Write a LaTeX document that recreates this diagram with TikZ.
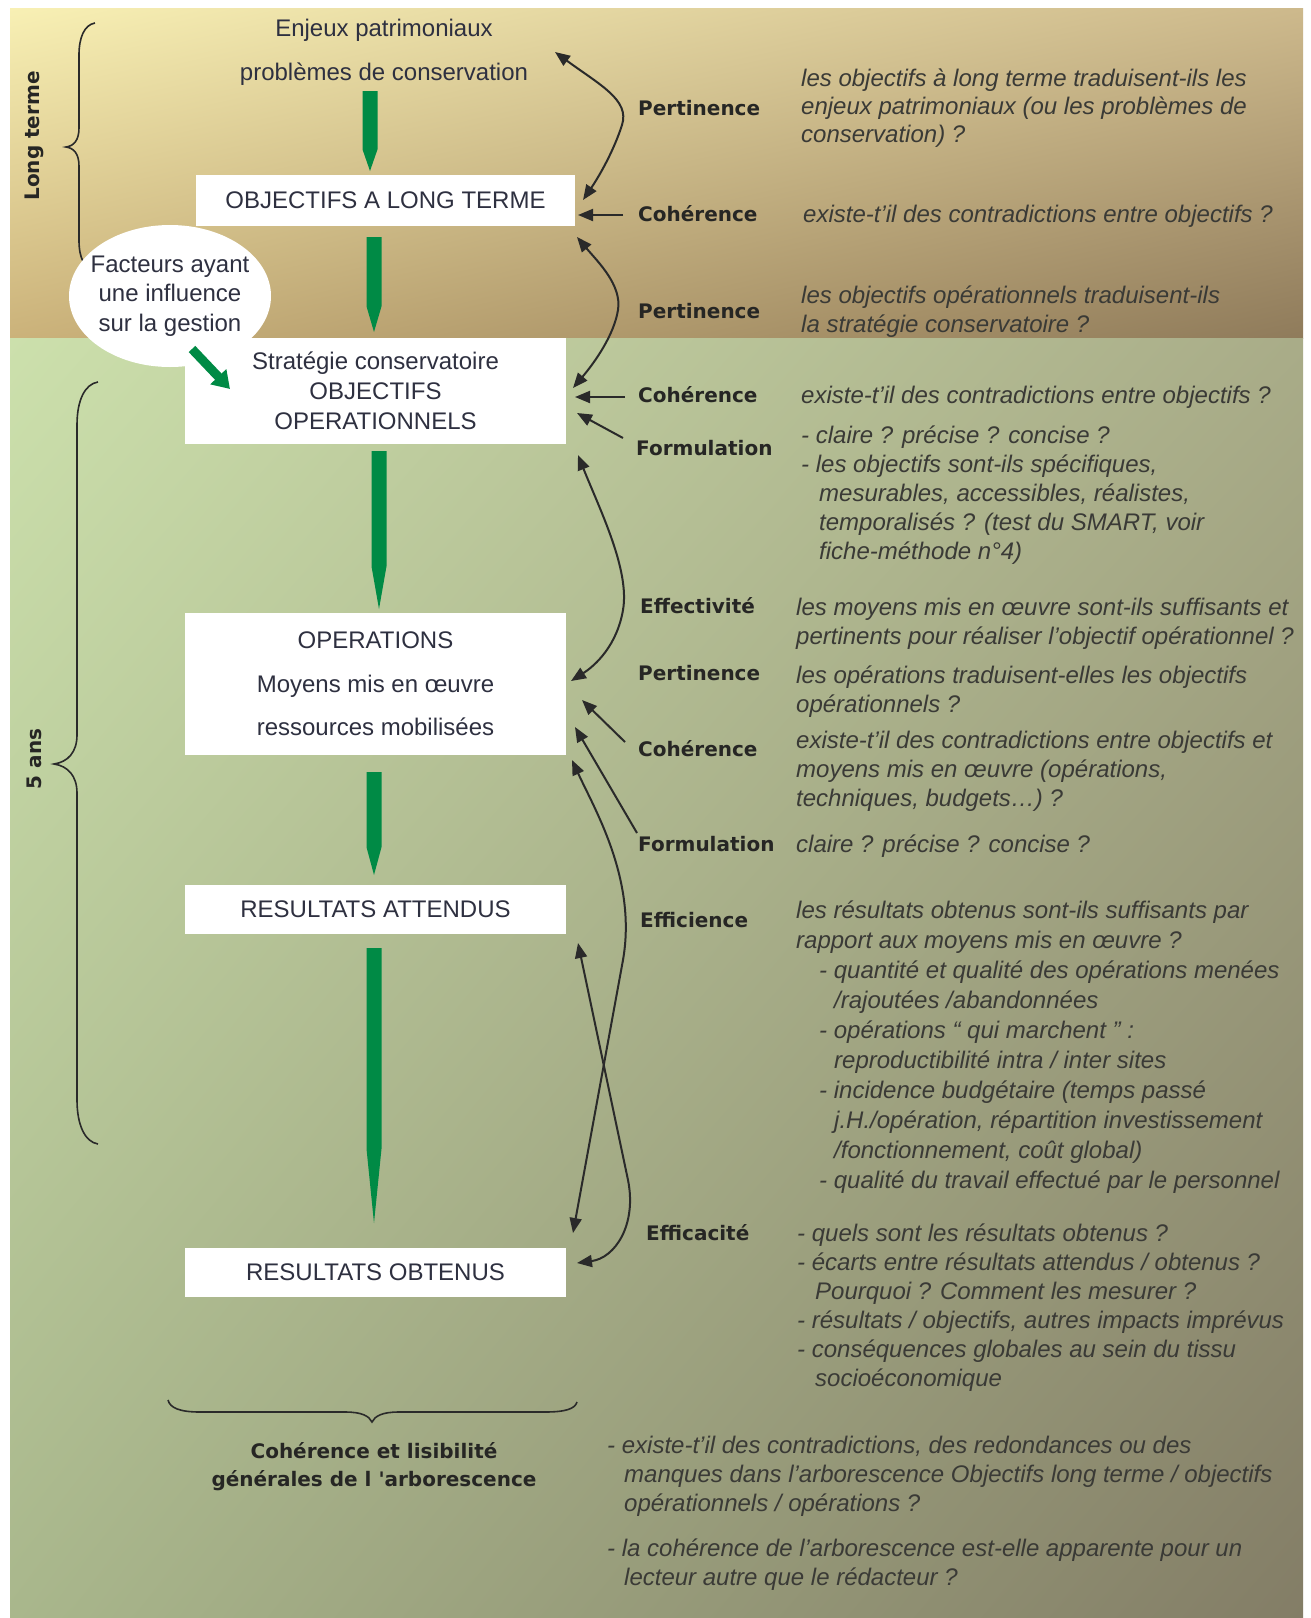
\documentclass[tikz,border=0pt]{standalone}
\usepackage{fontspec}
\setmainfont{Liberation Sans}
\newfontfamily\labfont{DejaVu Sans}
\usetikzlibrary{shapes.geometric,arrows.meta,calc,shadings}
\definecolor{garrow}{HTML}{008A45}
\definecolor{boxtext}{HTML}{2E3040}
\definecolor{qtext}{HTML}{3A3A36}
\definecolor{labtext}{HTML}{262624}
\definecolor{conncol}{HTML}{2A2A2A}
\definecolor{tA}{HTML}{F8F0B4}
\definecolor{tB}{HTML}{CDB98C}
\definecolor{tC}{HTML}{CBB27A}
\definecolor{tD}{HTML}{8F7B5B}
\definecolor{gA}{HTML}{CCE0AC}
\definecolor{gB}{HTML}{A9AC88}
\definecolor{gC}{HTML}{A9B78C}
\definecolor{gD}{HTML}{837D66}
\newcommand\greenarrow[2]{\fill[garrow] let \p1=(#1), \p2=(#2), \n1={\y2+0.27*(\y1-\y2)} in
  (\x1-7.5pt,\y1) -- (\x1+7.5pt,\y1) -- (\x1+7.5pt,\n1) -- (\x1,\y2) -- (\x1-7.5pt,\n1) -- cycle;}
\begin{document}
\begin{tikzpicture}[x=1pt,y=-1pt,
  plain/.style={inner sep=0pt,text=boxtext,font={\fontsize{24}{30}\selectfont}},
  box/.style={fill=white,inner sep=0pt,align=center,text=boxtext,font={\fontsize{24}{30}\selectfont}},
  lab/.style={anchor=west,inner sep=0pt,text=labtext,font={\labfont\bfseries\fontsize{20}{28}\selectfont}},
  q/.style={anchor=base west,inner sep=0pt,align=left,text=qtext,font={\itshape\fontsize{24}{29}\selectfont}},
  conn/.style={draw=conncol,line width=2pt},
  both/.style={conn,{Triangle[length=15pt,width=12pt]}-{Triangle[length=15pt,width=12pt]}},
  one/.style={conn,-{Triangle[length=15pt,width=12pt]}},
  brace/.style={draw=conncol,line width=1.6pt}]
% background
\path[use as bounding box,fill=white] (0,0) rectangle (1311,1618);
\shade[upper left=tA,upper right=tB,lower left=tC,lower right=tD] (10,8) rectangle (1303,338);
\shade[upper left=gA,upper right=gB,lower left=gC,lower right=gD] (10,338) rectangle (1303,1618);
% braces
\draw[brace] (95,23) .. controls (84,25) and (79,38) .. (79,55) -- (79,128) .. controls (79,140) and (74,146) .. (66,147) .. controls (74,148) and (79,154) .. (79,166) -- (79,240) .. controls (79,258) and (84,268) .. (95,271);
\draw[brace] (98,382) .. controls (85,384) and (77,400) .. (77,425) -- (77,735) .. controls (77,752) and (68,762) .. (54,764) .. controls (68,766) and (77,776) .. (77,793) -- (77,1100) .. controls (77,1125) and (85,1142) .. (98,1144);
\draw[brace] (168,1400) .. controls (170,1408) and (180,1412) .. (200,1412) -- (345,1412) .. controls (362,1412) and (369,1416) .. (372,1422) .. controls (375,1416) and (382,1412) .. (399,1412) -- (545,1412) .. controls (565,1412) and (575,1409) .. (577,1402);
\node[lab,anchor=center,rotate=90] (lt) at (34,136) {Long terme};
\node[lab,anchor=center,rotate=90] (five) at (34,759) {5 ans};
% top texts
\node[plain] (enj) at (384,30) {Enjeux patrimoniaux};
\node[plain] (prob) at (384,74) {problèmes de conservation};
% ellipse
\coordinate (factc) at (170,296);
\fill[white] (factc) ellipse [x radius=101, y radius=71];
\node[inner sep=0pt,align=center,text=boxtext,font={\fontsize{24}{29.5}\selectfont}] (fact) at (factc) {Facteurs ayant\\une influence\\sur la gestion};
% boxes
\node[box,minimum width=379pt,minimum height=51pt] (olt) at (385.5,200.5) {OBJECTIFS A LONG TERME};
\node[box,minimum width=381pt,minimum height=106pt] (oop) at (375.5,391) {Stratégie conservatoire\\OBJECTIFS\\OPERATIONNELS};
\node[box,minimum width=381pt,minimum height=142pt,font={\fontsize{24}{43.5}\selectfont}] (ops) at (375.5,684) {OPERATIONS\\Moyens mis en œuvre\\ressources mobilisées};
\node[box,minimum width=381pt,minimum height=49pt] (ra) at (375.5,909.5) {RESULTATS ATTENDUS};
\node[box,minimum width=381pt,minimum height=49pt] (ro) at (375.5,1272.5) {RESULTATS OBTENUS};
% green arrows
\coordinate (g1s) at (370,91);  \coordinate (g1e) at (370,171);
\coordinate (g2s) at (374,237); \coordinate (g2e) at (374,332);
\coordinate (g3s) at (379,451); \coordinate (g3e) at (379,609);
\coordinate (g4s) at (374,772); \coordinate (g4e) at (374,875);
\coordinate (g5s) at (374,948); \coordinate (g5e) at (374,1223);
\greenarrow{g1s}{g1e}
\greenarrow{g2s}{g2e}
\greenarrow{g3s}{g3e}
\greenarrow{g4s}{g4e}
\greenarrow{g5s}{g5e}
\coordinate (fa) at (192,349); \coordinate (fb) at (230,389);
\draw[garrow,line width=9pt,-{Triangle[length=17pt,width=21pt]}] (fa) -- (fb);
% right labels
\node[lab] (l1) at (638,108) {Pertinence};
\node[lab] (l2) at (638,214) {Cohérence};
\node[lab] (l3) at (638,311) {Pertinence};
\node[lab] (l4) at (638,395) {Cohérence};
\node[lab] (l5) at (636,448) {Formulation};
\node[lab] (l6) at (640,606) {Effectivité};
\node[lab] (l7) at (638,673) {Pertinence};
\node[lab] (l8) at (638,749) {Cohérence};
\node[lab] (l9) at (638,844) {Formulation};
\node[lab] (l10) at (640,920) {Efficience};
\node[lab] (l11) at (646,1233) {Efficacité};
\node[lab,anchor=center,align=center] (cl) at (374,1467) {Cohérence et lisibilité\\générales de l 'arborescence};
% questions (base anchor = baseline of the last line)
\node[q,font={\itshape\fontsize{24}{28.4}\selectfont}] (qA) at (801,142.8) {les objectifs à long terme traduisent-ils les\\enjeux patrimoniaux (ou les problèmes de\\conservation) ?};
\node[q] (qB) at (803,222) {existe-t'il des contradictions entre objectifs ?};
\node[q] (qC) at (801,332) {les objectifs opérationnels traduisent-ils\\la stratégie conservatoire ?};
\node[q] (qD) at (801,403) {existe-t'il des contradictions entre objectifs ?};
\node[q] (qE) at (801,559) {- claire ? précise ? concise ?\\- les objectifs sont-ils spécifiques,\\\hspace*{18pt}mesurables, accessibles, réalistes,\\\hspace*{18pt}temporalisés ? (test du SMART, voir\\\hspace*{18pt}fiche-méthode n°4)};
\node[q] (qF) at (796,644) {les moyens mis en œuvre sont-ils suffisants et\\pertinents pour réaliser l'objectif opérationnel ?};
\node[q] (qG) at (796,712) {les opérations traduisent-elles les objectifs\\opérationnels ?};
\node[q] (qH) at (796,806) {existe-t'il des contradictions entre objectifs et\\moyens mis en œuvre (opérations,\\techniques, budgets…) ?};
\node[q] (qI) at (796,852) {claire ? précise ? concise ?};
\node[q,font={\itshape\fontsize{24}{30}\selectfont}] (qJ) at (796,1188) {les résultats obtenus sont-ils suffisants par\\rapport aux moyens mis en œuvre ?\\\hspace*{23pt}- quantité et qualité des opérations menées\\\hspace*{38pt}/rajoutées /abandonnées\\\hspace*{23pt}- opérations “ qui marchent ” :\\\hspace*{38pt}reproductibilité intra / inter sites\\\hspace*{23pt}- incidence budgétaire (temps passé\\\hspace*{38pt}j.H./opération, répartition investissement\\\hspace*{38pt}/fonctionnement, coût global)\\\hspace*{23pt}- qualité du travail effectué par le personnel};
\node[q] (qK) at (797,1386) {- quels sont les résultats obtenus ?\\- écarts entre résultats attendus / obtenus ?\\\hspace*{18pt}Pourquoi ? Comment les mesurer ?\\- résultats / objectifs, autres impacts imprévus\\- conséquences globales au sein du tissu\\\hspace*{18pt}socioéconomique};
\node[q] (qL1) at (607,1511) {- existe-t'il des contradictions, des redondances ou des\\\hspace*{17pt}manques dans l'arborescence Objectifs long terme / objectifs\\\hspace*{17pt}opérationnels / opérations ?};
\node[q] (qL2) at (607,1585) {- la cohérence de l'arborescence est-elle apparente pour un\\\hspace*{17pt}lecteur autre que le rédacteur ?};
% connectors
\coordinate (c1a) at (555,52);  \coordinate (c1b) at (583,200);
\coordinate (c2a) at (623,215); \coordinate (c2b) at (578,215);
\coordinate (c3a) at (577,237); \coordinate (c3b) at (573,388);
\coordinate (c4a) at (625,397); \coordinate (c4b) at (575,397);
\coordinate (c5a) at (623,438); \coordinate (c5b) at (577,413);
\coordinate (c6a) at (578,455); \coordinate (c6b) at (571,681);
\coordinate (c7a) at (625,742); \coordinate (c7b) at (582,700);
\coordinate (c8a) at (637,833); \coordinate (c8b) at (575,727);
\coordinate (c9a) at (572,760); \coordinate (c9m) at (623,960); \coordinate (c9b) at (573,1233);
\coordinate (c10a) at (578,943); \coordinate (c10m) at (628,1180); \coordinate (c10b) at (577,1263);
\draw[both] (c1a) .. controls (600,85) and (630,100) .. (622,125) .. controls (614,150) and (600,175) .. (c1b);
\draw[one] (c2a) -- (c2b);
\draw[both] (c3a) .. controls (598,262) and (622,285) .. (618,310) .. controls (614,335) and (595,362) .. (c3b);
\draw[one] (c4a) -- (c4b);
\draw[one] (c5a) -- (c5b);
\draw[both] (c6a) .. controls (600,510) and (630,570) .. (623,610) .. controls (617,645) and (596,665) .. (c6b);
\draw[one] (c7a) -- (c7b);
\draw[one] (c8a) -- (c8b);
\draw[both] (c9a) .. controls (595,810) and (637,880) .. (c9m) -- (c9b);
\draw[both] (c10a) -- (c10m) .. controls (637,1225) and (615,1258) .. (c10b);
\end{tikzpicture}
\end{document}
